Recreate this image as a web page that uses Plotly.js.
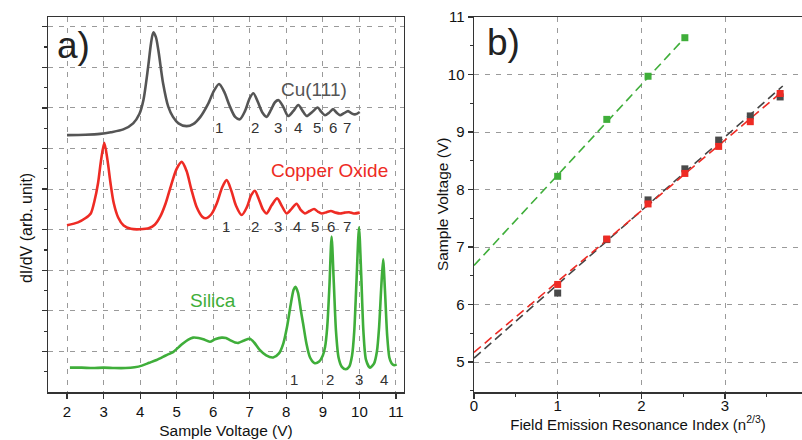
<!DOCTYPE html>
<html>
<head>
<meta charset="utf-8">
<script src="https://cdn.plot.ly/plotly-3.0.1.min.js"></script>
<style>html,body{margin:0;padding:0;background:#fff;}#chart{width:802px;height:440px;}</style>
</head>
<body>
<div id="chart"></div>
<script>
// ---- Panel a) dI/dV spectra (offset arbitrary units) ----
const cuV = [2.00,2.50,2.90,3.20,3.54,3.81,3.98,4.09,4.22,4.30,4.36,4.43,4.50,4.63,4.77,4.90,5.05,5.27,5.45,5.65,5.85,6.02,6.16,6.30,6.45,6.60,6.73,6.87,7.00,7.10,7.22,7.35,7.46,7.58,7.69,7.79,7.92,8.05,8.19,8.33,8.45,8.56,8.71,8.86,8.96,9.06,9.17,9.28,9.38,9.47,9.58,9.69,9.78,9.88,10.01];
const cuS = [6.33,6.34,6.36,6.40,6.47,6.62,6.85,7.19,8.01,8.60,8.86,8.75,8.42,7.60,7.03,6.78,6.62,6.55,6.60,6.78,7.08,7.42,7.59,7.40,7.05,6.78,6.72,6.92,7.24,7.36,7.15,6.88,6.78,6.95,7.14,7.19,7.02,6.80,6.92,7.07,6.92,6.80,6.90,7.01,6.90,6.82,6.88,6.97,6.88,6.82,6.87,6.92,6.87,6.84,6.90];

const oxV = [2.00,2.30,2.50,2.65,2.75,2.85,2.93,3.02,3.11,3.19,3.28,3.40,3.55,3.75,4.00,4.25,4.40,4.55,4.70,4.85,5.00,5.14,5.27,5.40,5.55,5.70,5.80,5.95,6.10,6.25,6.37,6.50,6.62,6.78,6.92,7.04,7.14,7.25,7.36,7.46,7.60,7.75,7.88,8.01,8.15,8.28,8.40,8.51,8.64,8.76,8.87,8.97,9.10,9.22,9.35,9.47,9.60,9.72,9.85,10.01];
const oxS = [4.11,4.18,4.28,4.40,4.70,5.15,5.70,6.14,5.70,5.15,4.65,4.30,4.10,4.02,4.01,4.04,4.12,4.32,4.65,5.10,5.50,5.67,5.45,5.00,4.55,4.32,4.28,4.38,4.65,5.05,5.22,4.95,4.60,4.36,4.55,4.85,4.96,4.75,4.50,4.40,4.60,4.77,4.58,4.40,4.52,4.64,4.48,4.40,4.46,4.51,4.44,4.40,4.43,4.46,4.42,4.40,4.42,4.43,4.40,4.42];

const siV = [2.08,2.40,2.70,3.00,3.30,3.60,3.85,4.05,4.25,4.45,4.70,4.91,5.05,5.18,5.32,5.45,5.60,5.73,5.91,6.05,6.23,6.35,6.46,6.60,6.69,6.85,7.00,7.12,7.28,7.45,7.64,7.80,7.92,8.02,8.12,8.20,8.25,8.32,8.40,8.46,8.55,8.65,8.78,8.90,9.00,9.06,9.12,9.18,9.24,9.30,9.36,9.43,9.52,9.63,9.72,9.80,9.86,9.92,9.99,10.05,10.11,10.18,10.29,10.40,10.48,10.54,10.60,10.65,10.70,10.76,10.82,10.88,10.95,11.02];
const siS = [0.60,0.60,0.59,0.60,0.59,0.59,0.61,0.65,0.72,0.79,0.90,0.99,1.10,1.20,1.29,1.34,1.33,1.30,1.24,1.30,1.34,1.33,1.28,1.22,1.21,1.27,1.31,1.22,1.03,0.90,0.85,0.95,1.20,1.60,2.15,2.52,2.59,2.45,2.00,1.69,1.20,0.85,0.71,0.75,0.90,1.10,1.60,2.60,3.83,2.70,1.50,0.85,0.62,0.56,0.62,0.90,1.50,2.70,4.06,2.90,1.50,0.80,0.60,0.70,1.00,1.60,2.60,3.27,2.50,1.40,0.85,0.71,0.66,0.68];

// peak index labels (position in panel a)
const cuIdx = ["1","2","3","4","5","6","7"];
const cuIdxV = [6.16,7.14,7.76,8.31,8.83,9.27,9.66];
const oxIdx = ["1","2","3","4","5","6","7"];
const oxIdxV = [6.35,7.14,7.77,8.29,8.78,9.22,9.66];
const siIdx = ["1","2","3","4"];
const siIdxV = [8.21,9.19,9.99,10.67];

// ---- Panel b) resonance energies vs n^(2/3) ----
const nIdx = [1, 1.587, 2.080, 2.520, 2.924, 3.302, 3.659];
const cuE = [6.20, 7.13, 7.82, 8.36, 8.86, 9.28, 9.61];
const oxE = [6.35, 7.14, 7.75, 8.28, 8.75, 9.18, 9.67];
const siN = [1, 1.587, 2.080, 2.520];
const siE = [8.23, 9.22, 9.97, 10.64];
// linear fit lines
const cuFitX = [0, 3.69], cuFitY = [5.07, 9.80];
const oxFitX = [0, 3.69], oxFitY = [5.17, 9.71];
const siFitX = [0, 2.52], siFitY = [6.68, 10.64];

const GRAY = '#555555', RED = '#ee2b24', GREEN = '#3fae3a';
const FONT = 'Liberation Sans, Arial, Helvetica, sans-serif';

const traces = [
  {x: cuV, y: cuS, mode: 'lines', line: {color: GRAY, width: 2.6, shape: 'spline', smoothing: 0.8}, xaxis: 'x', yaxis: 'y', hoverinfo: 'skip'},
  {x: oxV, y: oxS, mode: 'lines', line: {color: RED, width: 2.6, shape: 'spline', smoothing: 0.8}, xaxis: 'x', yaxis: 'y', hoverinfo: 'skip'},
  {x: siV, y: siS, mode: 'lines', line: {color: GREEN, width: 2.6, shape: 'spline', smoothing: 0.7}, xaxis: 'x', yaxis: 'y', hoverinfo: 'skip'},
  {x: siFitX, y: siFitY, mode: 'lines', line: {color: GREEN, width: 1.6, dash: '9px,5px'}, xaxis: 'x2', yaxis: 'y2'},
  {x: cuFitX, y: cuFitY, mode: 'lines', line: {color: '#444444', width: 1.6, dash: '9px,5px'}, xaxis: 'x2', yaxis: 'y2'},
  {x: oxFitX, y: oxFitY, mode: 'lines', line: {color: RED, width: 1.6, dash: '9px,5px'}, xaxis: 'x2', yaxis: 'y2'},
  {x: nIdx, y: cuE, mode: 'markers', marker: {symbol: 'square', size: 7, color: '#4a4a4a'}, xaxis: 'x2', yaxis: 'y2'},
  {x: nIdx, y: oxE, mode: 'markers', marker: {symbol: 'square', size: 7, color: RED}, xaxis: 'x2', yaxis: 'y2'},
  {x: siN, y: siE, mode: 'markers', marker: {symbol: 'square', size: 7, color: GREEN}, xaxis: 'x2', yaxis: 'y2'}
];

const annotations = [];
function lab(text, x, y, color, size, xref, yref, angle) {
  annotations.push({text: text, x: x, y: y, xref: xref || 'x', yref: yref || 'y', showarrow: false,
    textangle: angle || 0,
    font: {family: FONT, size: size, color: color}, xanchor: 'center', yanchor: 'middle'});
}
cuIdx.forEach((t, i) => lab(t, cuIdxV[i], 6.51, '#333333', 15));
oxIdx.forEach((t, i) => lab(t, oxIdxV[i], 4.09, '#333333', 15));
siIdx.forEach((t, i) => lab(t, siIdxV[i], 0.32, '#333333', 15));
lab('Cu(111)', 8.76, 7.46, '#555555', 19);
lab('Copper Oxide', 9.19, 5.46, RED, 19);
lab('Silica', 6.0, 2.25, GREEN, 19);
lab('a)', 2.18, 8.55, '#222222', 37);
lab('b)', 0.35, 10.55, '#222222', 37, 'x2', 'y2');
// y-axis titles
lab('dI/dV (arb. unit)', -0.0292, 0.437, '#111111', 16, 'paper', 'paper', -90);
lab('Sample Voltage (V)', 0.5225, 0.501, '#111111', 15.5, 'paper', 'paper', -90);

const axLine = {showline: true, linecolor: '#333333', linewidth: 1.5, zeroline: false,
  ticks: 'outside', ticklen: 5, tickwidth: 1.2, tickcolor: '#333333',
  showgrid: true, gridcolor: '#9a9a9a', gridwidth: 1, griddash: '5px,6px',
  tickfont: {family: FONT, size: 15, color: '#111111'}};

const layout = {
  width: 802, height: 440,
  margin: {l: 48, r: 0, t: 17, b: 48},
  paper_bgcolor: '#ffffff', plot_bgcolor: '#ffffff',
  showlegend: false,
  font: {family: FONT, color: '#111111'},
  xaxis: Object.assign({}, axLine, {domain: [0, 0.4721], range: [1.48, 11.22], tickvals: [2,3,4,5,6,7,8,9,10,11], mirror: true,
    title: {text: 'Sample Voltage (V)', font: {family: FONT, size: 15.5, color: '#111111'}, standoff: 6}}),
  yaxis: Object.assign({}, axLine, {domain: [0, 1], range: [0, 9.24], tickvals: [1,2,3,4,5,6,7,8,9], showticklabels: false, mirror: true,
    minor: {tickvals: [0.5,1.5,2.5,3.5,4.5,5.5,6.5,7.5,8.5], ticklen: 3, tickcolor: '#333333', showgrid: false}}),
  xaxis2: Object.assign({}, axLine, {domain: [0.565, 1], range: [0, 3.92], anchor: 'y2', tickvals: [0,1,2,3], mirror: true,
    ticklabelstandoff: -6,
    minor: {tickvals: [0.5,1.5,2.5,3.5], ticklen: 3, tickcolor: '#333333', showgrid: false},
    title: {text: 'Field Emission Resonance Index (n<sup>2/3</sup>)', font: {family: FONT, size: 15, color: '#111111'}, standoff: 0}}),
  yaxis2: Object.assign({}, axLine, {domain: [0, 1], range: [4.48, 11], anchor: 'x2', tickvals: [5,6,7,8,9,10,11],
    minor: {tickvals: [4.5,5.5,6.5,7.5,8.5,9.5,10.5], ticklen: 3, tickcolor: '#333333', showgrid: false}}),
  annotations: annotations
};

Plotly.newPlot('chart', traces, layout, {staticPlot: true, displayModeBar: false});
</script>
</body>
</html>
